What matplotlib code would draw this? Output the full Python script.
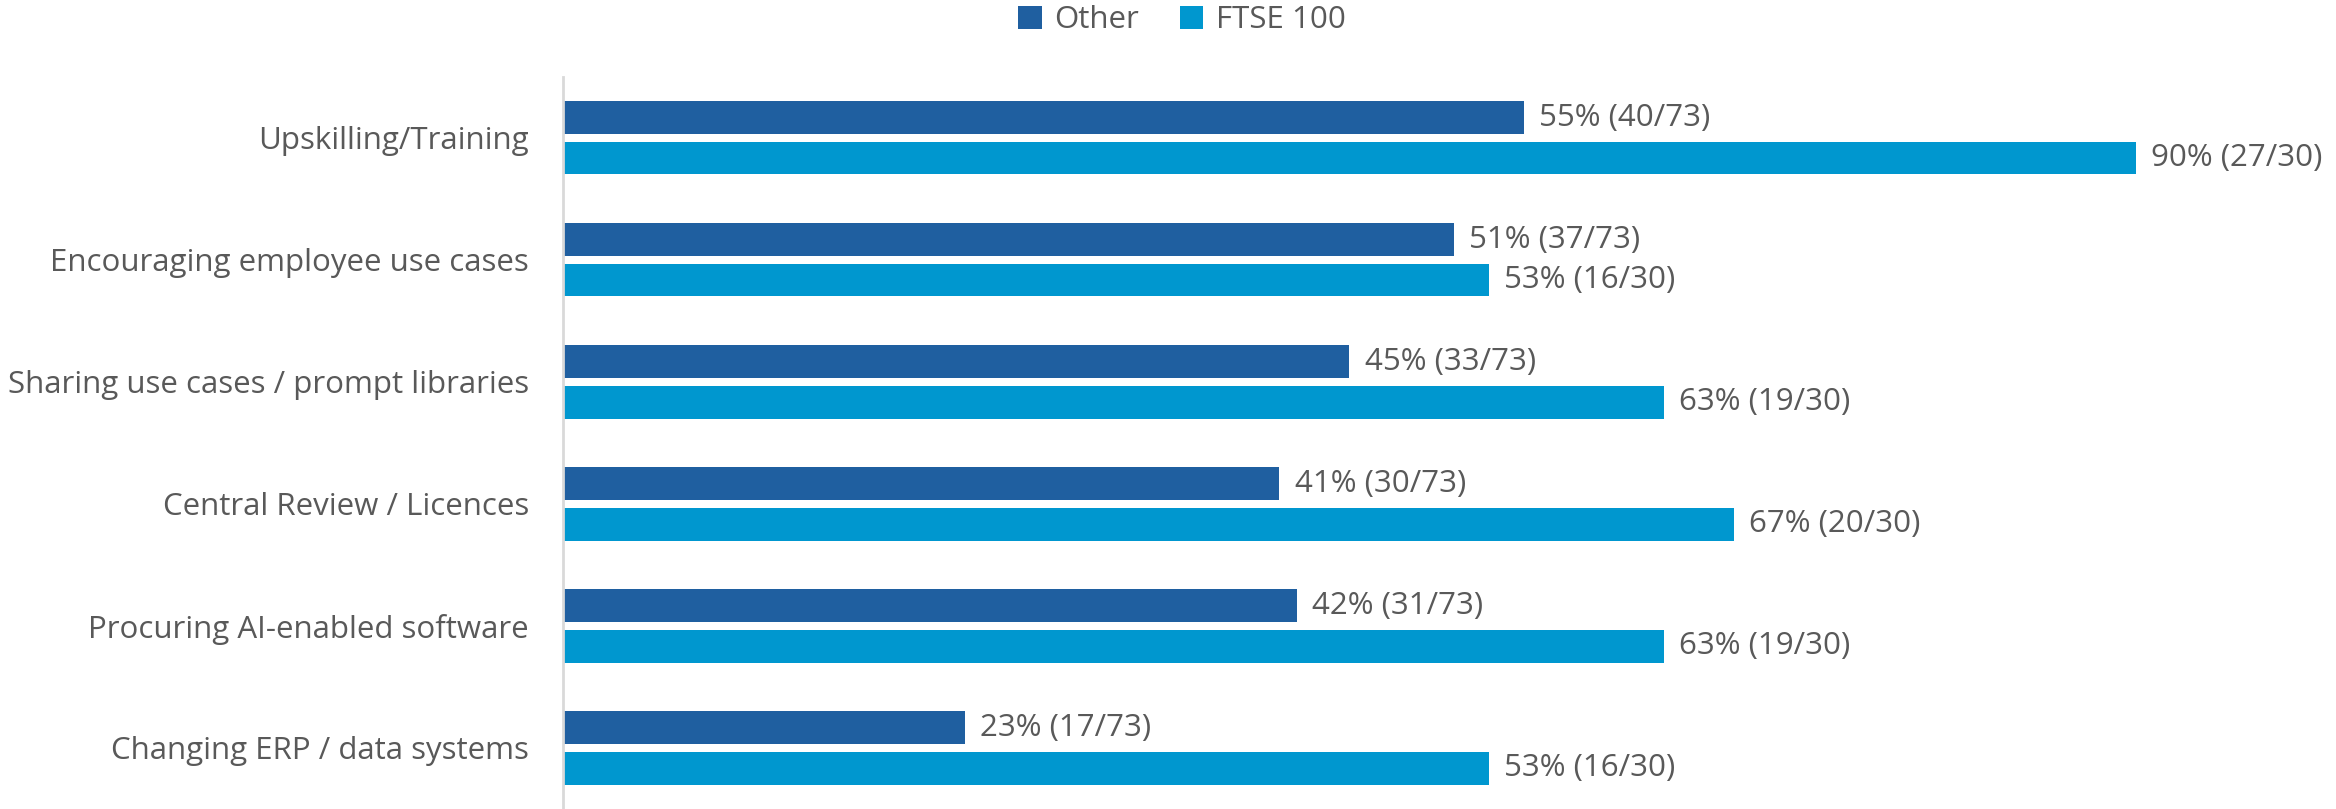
import matplotlib.pyplot as plt
import numpy as np

plt.rcParams['font.family'] = ['Open Sans', 'DejaVu Sans']

categories = ['Upskilling/Training', 'Encouraging employee use cases',
              'Sharing use cases / prompt libraries', 'Central Review / Licences',
              'Procuring AI-enabled software', 'Changing ERP / data systems']
other_pct = [55, 51, 45, 41, 42, 23]
other_lbl = ['55% (40/73)', '51% (37/73)', '45% (33/73)', '41% (30/73)',
             '42% (31/73)', '23% (17/73)']
ftse_pct = [90, 53, 63, 67, 63, 53]
ftse_lbl = ['90% (27/30)', '53% (16/30)', '63% (19/30)', '67% (20/30)',
            '63% (19/30)', '53% (16/30)']

c_other = '#1f5fa0'
c_ftse = '#0097cf'
txt = '#595959'
fs = 22.5

fig = plt.figure(figsize=(23.36, 8.09), dpi=100)
ax = fig.add_axes([0.241, 0.0, 0.748, 0.905])

y = np.arange(len(categories))
h = 0.27
off = 0.165
b1 = ax.barh(y - off, other_pct, height=h, color=c_other, label='Other')
b2 = ax.barh(y + off, ftse_pct, height=h, color=c_ftse, label='FTSE 100')

for bars, labels in ((b1, other_lbl), (b2, ftse_lbl)):
    ax.bar_label(bars, labels=labels, padding=11, fontsize=fs, color=txt,
                 clip_on=False)

ax.set_xlim(0, 100)
ax.set_ylim(5.5, -0.5)
ax.set_yticks(y)
ax.set_yticklabels(categories, fontsize=fs, color=txt)
ax.tick_params(axis='y', length=0, pad=24.5)
ax.set_xticks([])
for s in ['top', 'right', 'bottom']:
    ax.spines[s].set_visible(False)
ax.spines['left'].set_color('#d9d9d9')
ax.spines['left'].set_linewidth(2)

fig.legend(handles=[b1, b2], loc='upper center', bbox_to_anchor=(0.506, 1.028),
           ncol=2, frameon=False, fontsize=fs, labelcolor=txt,
           handlelength=0.75, handleheight=0.75, handletextpad=0.4,
           columnspacing=1.3)

fig.savefig('out.png', dpi=100)
